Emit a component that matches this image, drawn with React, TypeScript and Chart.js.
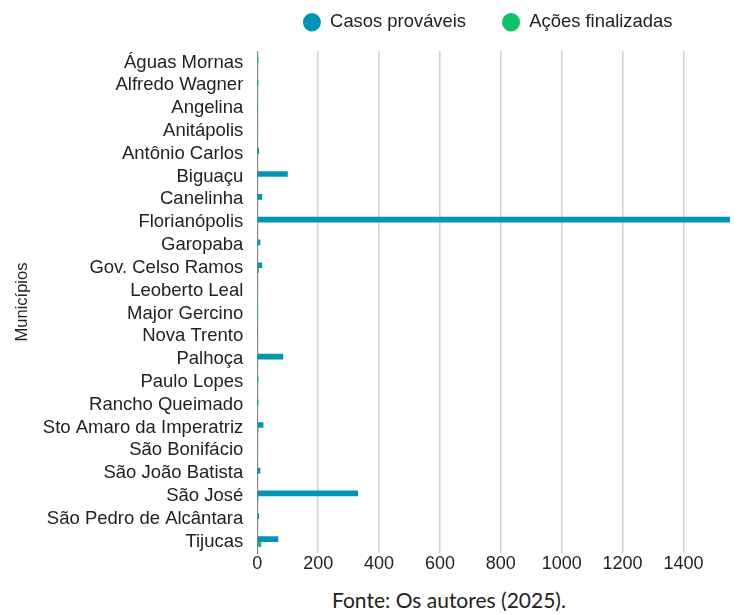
import { useEffect, useRef } from 'react';
import { Chart, registerables } from 'chart.js';

Chart.register(...registerables);

const municipios = [
  'Águas Mornas',
  'Alfredo Wagner',
  'Angelina',
  'Anitápolis',
  'Antônio Carlos',
  'Biguaçu',
  'Canelinha',
  'Florianópolis',
  'Garopaba',
  'Gov. Celso Ramos',
  'Leoberto Leal',
  'Major Gercino',
  'Nova Trento',
  'Palhoça',
  'Paulo Lopes',
  'Rancho Queimado',
  'Sto Amaro da Imperatriz',
  'São Bonifácio',
  'São João Batista',
  'São José',
  'São Pedro de Alcântara',
  'Tijucas',
];

const casosProvaveis = [1, 1, 0, 0, 5, 99, 15, 1553, 9, 15, 0, 0, 0, 84, 1, 1, 19, 0, 9, 330, 5, 68];
const acoesFinalizadas = [0, 0, 0, 0, 0, 0, 0, 0, 0, 4, 0, 0, 0, 0, 0, 0, 2, 0, 0, 2, 0, 12];

const seriesLabels = ['Casos prováveis', 'Ações finalizadas'];
const seriesColors = ['#0096B4', '#10C165'];
const xMax = 1553;
const xStep = 200;
const yTitle = 'Municípios';
const footerText = 'Fonte: Os autores (2025).';

const FONT = "'Liberation Sans', Arial, sans-serif";

export default function App() {
  const ref = useRef<HTMLCanvasElement | null>(null);

  useEffect(() => {
    document.body.style.margin = '0';
    const canvas = ref.current;
    if (!canvas) return;

    const legendSpacer = {
      id: 'legendSpacer',
      beforeLayout(chart: any) {
        const lg = chart.legend;
        if (lg && !lg.__patched) {
          const orig = lg.fit.bind(lg);
          lg.fit = function () {
            orig();
            this.height += 9.6;
          };
          lg.__patched = true;
        }
      },
      afterLayout(chart: any) {
        const lg = chart.legend;
        if (lg) {
          lg.right -= 12;
          lg.width = lg.right - lg.left;
        }
      },
    };

    const chart = new Chart(canvas, {
      type: 'bar',
      data: {
        labels: municipios,
        datasets: [
          {
            label: seriesLabels[0],
            data: casosProvaveis,
            backgroundColor: seriesColors[0],
            borderWidth: 0,
            barThickness: 5,
          },
          {
            label: seriesLabels[1],
            data: acoesFinalizadas,
            backgroundColor: seriesColors[1],
            borderWidth: 0,
            barThickness: 5,
          },
        ],
      },
      options: {
        indexAxis: 'y',
        animation: false,
        responsive: false,
        layout: { padding: { left: 8, right: 12, top: -23, bottom: 5.4 } },
        plugins: {
          legend: {
            position: 'top',
            fullSize: false,
            labels: {
              usePointStyle: true,
              pointStyle: 'circle',
              boxHeight: 13,
              pointStyleWidth: 18,
              padding: 36,
              color: '#222',
              font: { family: FONT, size: 18.4 },
            },
          },
          tooltip: { enabled: false },
        },
        scales: {
          x: {
            type: 'linear',
            min: 0,
            max: xMax,
            ticks: {
              stepSize: xStep,
              includeBounds: false,
              color: '#222',
              padding: 0,
              font: { family: FONT, size: 18 },
              callback: (v: any) => String(v),
            },
            grid: { color: '#d0d0d0', lineWidth: 1.5, drawTicks: false },
            border: { display: false },
          },
          y: {
            type: 'category',
            z: 1,
            grid: { display: false, drawTicks: false },
            border: { display: true, color: '#888', width: 1 },
            ticks: {
              color: '#222',
              padding: 14,
              autoSkip: false,
              font: { family: FONT, size: 18.5 },
            },
            title: {
              display: true,
              text: yTitle,
              color: '#222',
              font: { family: FONT, size: 16.5 },
              padding: { top: 5, bottom: -4 },
            },
          },
        },
      },
      plugins: [legendSpacer],
    } as any);

    return () => chart.destroy();
  }, []);

  return (
    <div style={{ position: 'relative', width: 742, height: 615 }}>
      <canvas ref={ref} width={742} height={580} style={{ display: 'block', width: 742, height: 580 }} />
      <div
        style={{
          position: 'absolute',
          left: 332,
          top: 587,
          fontFamily: 'Lato, sans-serif',
          fontSize: 21,
          color: '#222',
          whiteSpace: 'nowrap',
          lineHeight: 'normal',
        }}
      >
        {footerText}
      </div>
    </div>
  );
}
